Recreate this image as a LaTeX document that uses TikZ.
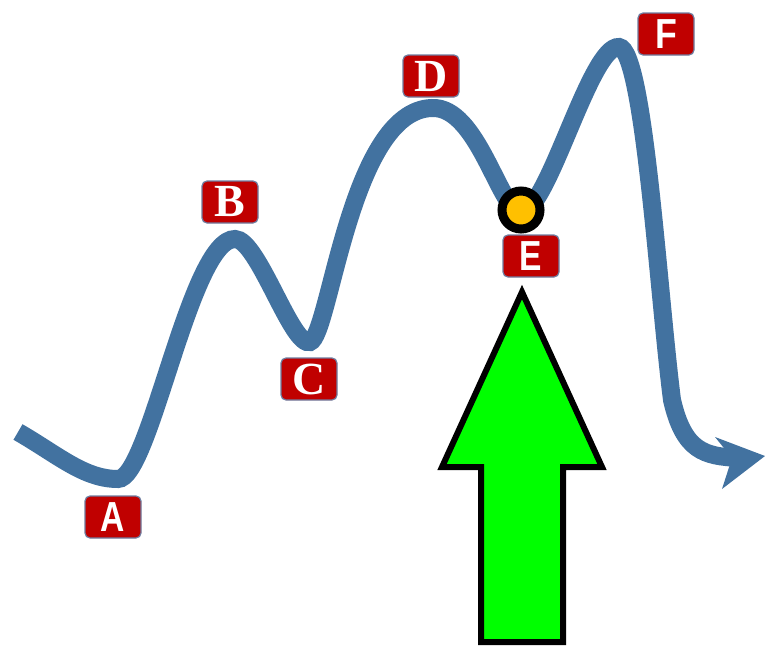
\documentclass[tikz,border=0pt]{standalone}
\usepackage{fontspec}
\setmainfont{Liberation Serif}
\newfontfamily\lblsans{Liberation Sans}
\definecolor{curveblue}{RGB}{66,114,160}
\definecolor{boxred}{RGB}{192,0,0}
\definecolor{lblborder}{RGB}{110,125,160}
\definecolor{dotyellow}{RGB}{255,192,0}
\definecolor{arrowgreen}{RGB}{0,255,0}
\begin{document}
\begin{tikzpicture}[x=1pt,y=-1pt,
  curve/.style={draw=curveblue, line width=18pt, line cap=butt},
  lbl/.style={draw=lblborder, line width=1.2pt, fill=boxred, rounded corners=5pt,
    minimum width=56pt, minimum height=42pt, inner sep=0pt, text=white},
  sanslbl/.style={lbl, font=\lblsans\fontsize{42}{42}\selectfont\bfseries},
  seriflbl/.style={lbl, font=\fontsize{46}{46}\selectfont\bfseries}]
\useasboundingbox (0,0) rectangle (765,648);
% main curve
\coordinate (start) at (18,432);
\coordinate (pA) at (118,479);
\coordinate (pB) at (235,239);
\coordinate (pC) at (310,342);
\coordinate (pD) at (432,108);
\coordinate (pE) at (521,212);
\coordinate (pF) at (619,47);
\coordinate (bend) at (672,400);
\coordinate (tail) at (738,458);
\draw[curve] (start) .. controls (58,455) and (84,479) .. (pA)
  .. controls (150,479) and (190,239) .. (pB)
  .. controls (258,239) and (292,348) .. (pC)
  .. controls (330,336) and (350,110) .. (pD)
  .. controls (478,106) and (500,212) .. (pE)
  .. controls (548,212) and (590,45) .. (pF)
  .. controls (644,50) and (658,290) .. (bend)
  .. controls (684,452) and (705,456) .. (tail);
% arrow head of the curve
\fill[curveblue] (765,456) -- (715,437) -- (732,458) -- (722,489) -- cycle;
% dot at E
\node[circle, draw=black, line width=9pt, fill=dotyellow, minimum size=38pt, inner sep=0pt] (dot) at (521,210) {};
% labels
\node[sanslbl] (A) at (113,517) {\scalebox{0.8}[1]{A}};
\node[seriflbl] (B) at (230,202) {B};
\node[seriflbl] (C) at (309,379) {C};
\node[seriflbl] (D) at (431,76) {D};
\node[sanslbl] (E) at (531,256) {\scalebox{0.8}[1]{E}};
\node[sanslbl] (F) at (666,34) {\scalebox{0.85}[1]{F}};
% green arrow
\draw[fill=arrowgreen, draw=black, line width=6pt, line join=miter]
  (522,292) -- (602,467) -- (563,467) -- (563,642) -- (481,642) -- (481,467) -- (442,467) -- cycle;
\end{tikzpicture}
\end{document}
